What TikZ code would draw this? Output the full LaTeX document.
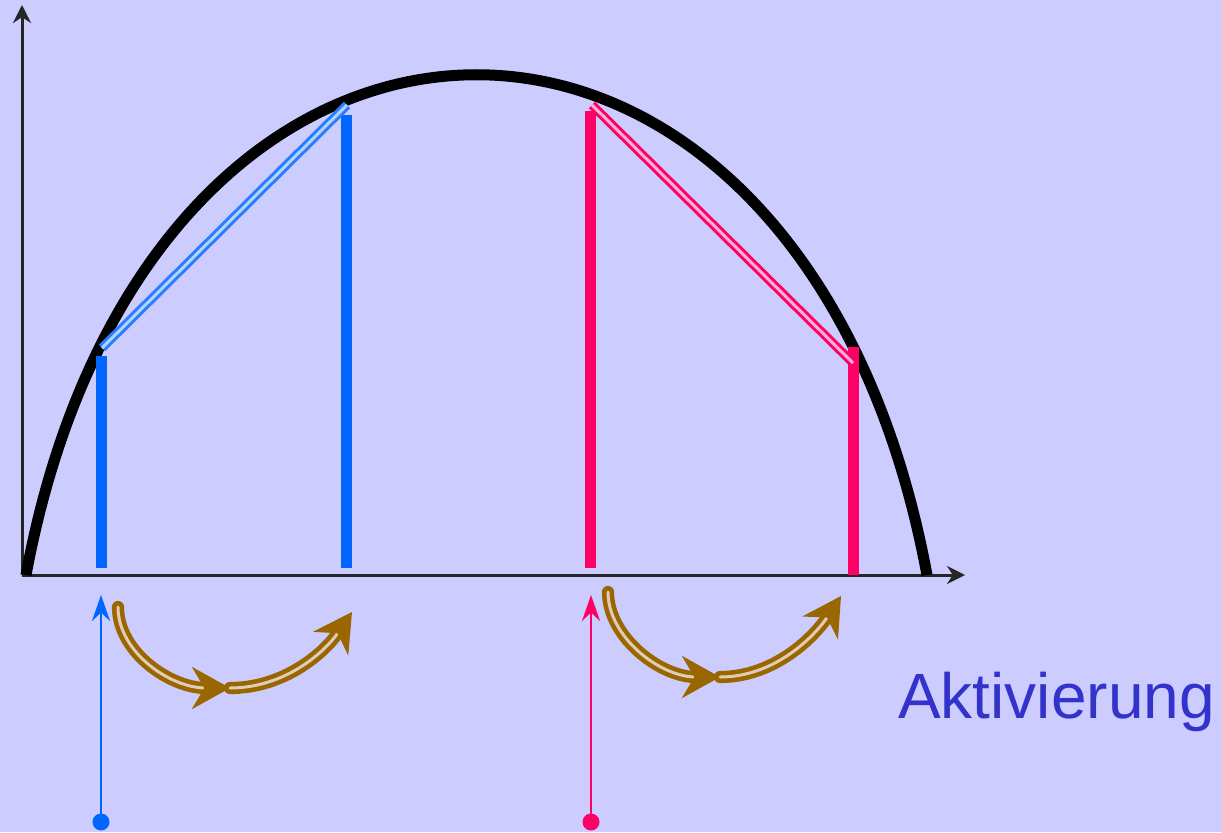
\documentclass[tikz,border=0pt]{standalone}
\usepackage{fontspec}
\setmainfont{Liberation Sans}
\usetikzlibrary{arrows.meta}
\definecolor{bg}{RGB}{204,204,255}
\definecolor{blu}{RGB}{0,102,255}
\definecolor{rd}{RGB}{255,0,102}
\definecolor{brn}{RGB}{153,102,0}
\definecolor{brnlt}{RGB}{222,204,182}
\definecolor{txt}{RGB}{51,51,204}

\begin{document}
\begin{tikzpicture}[x=1pt,y=-1pt,
  axis/.style={black!85,line width=3pt,-{Stealth[length=18pt,width=18pt]}},
  hump/.style={line width=11pt},
  bar/.style={line width=11pt},
  chord/.style={line width=3pt,double distance=3pt},
  feed/.style={line width=2.5pt,-{Stealth[length=26pt,width=18pt]}},
  hop/.style={brn,line width=4.6pt,double=brnlt,double distance=3pt,line cap=round,-{Stealth[length=38pt,width=42pt]}}]
\fill[bg] (0,0) rectangle (1222,832);
\useasboundingbox (0,0) rectangle (1222,832);

% axes
\coordinate (o) at (22,575);
\coordinate (ytop) at (22,5);
\coordinate (xend) at (965,575);
\draw[axis] (o) -- (ytop);
\draw[axis] (o) -- (xend);

% activation curve
\draw[hump] (26,575) .. controls (150,-92) and (803,-92) .. (927,575);

% bars
\draw[bar,blu] (101,568) -- (101,356);
\draw[bar,blu] (346,568) -- (346,115);
\draw[bar,rd] (590,568) -- (590,111);
\draw[bar,rd] (853,575) -- (853,347);

% chords along the curve
\draw[chord,blu!85,double=blu!30!white] (102,348) -- (347,105);
\draw[chord,rd,double=rd!30!white] (592,105) -- (853,363);

% inputs
\coordinate (bdot) at (101,822);
\coordinate (btip) at (101,595);
\coordinate (rdot) at (591,822);
\coordinate (rtip) at (591,595);
\draw[feed,blu] (bdot) -- (btip);
\draw[feed,rd] (rdot) -- (rtip);
\fill[blu] (bdot) circle (8.5);
\fill[rd] (rdot) circle (8.5);

% steps
\coordinate (b0) at (118,607);
\coordinate (b1) at (230,688);
\coordinate (b2) at (352,612);
\coordinate (r0) at (608,592);
\coordinate (r1) at (720,677);
\coordinate (r2) at (841,596);
\draw[hop] (b0) .. controls (118,652) and (170,688) .. (b1);
\draw[hop] (b1) .. controls (285,688) and (325,652) .. (b2);
\draw[hop] (r0) .. controls (608,637) and (660,677) .. (r1);
\draw[hop] (r1) .. controls (775,677) and (815,636) .. (r2);

\node[anchor=base west,inner sep=0,text=txt,font=\fontsize{64}{70}\selectfont] (lbl) at (898,718) {Aktivierung};
\end{tikzpicture}
\end{document}
